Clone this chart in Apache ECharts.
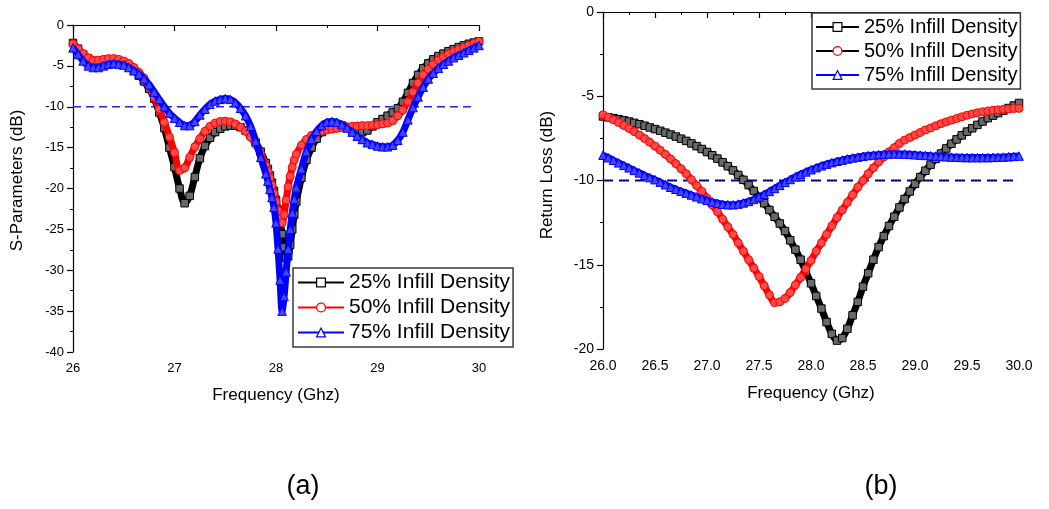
<!DOCTYPE html>
<html>
<head>
<meta charset="utf-8">
<script src="https://cdn.jsdelivr.net/npm/echarts@6/dist/echarts.min.js"></script>
<style>
  html, body { margin: 0; padding: 0; background: #fff; }
  #chart { width: 1049px; height: 509px; }
</style>
</head>
<body>
<div id="chart"></div>
<script>
// ---- (a) S-parameters vs frequency ----
const freqA = [
  26.00, 26.05, 26.10, 26.15, 26.20, 26.25, 26.30, 26.35, 26.40, 26.45,
  26.50, 26.55, 26.60, 26.65, 26.70, 26.75, 26.80, 26.85, 26.90, 26.95,
  27.00, 27.05, 27.10, 27.15, 27.20, 27.25, 27.30, 27.35, 27.40, 27.45,
  27.50, 27.55, 27.60, 27.65, 27.70, 27.75, 27.80, 27.85, 27.90,
  27.92, 27.94, 27.96, 27.98, 28.00, 28.02, 28.04, 28.06, 28.08, 28.10,
  28.12, 28.14, 28.16, 28.18, 28.20,
  28.25, 28.30, 28.35, 28.40, 28.45, 28.50, 28.55, 28.60, 28.65, 28.70,
  28.75, 28.80, 28.85, 28.90, 28.95, 29.00, 29.05, 29.10, 29.15, 29.20,
  29.25, 29.30, 29.35, 29.40, 29.45, 29.50, 29.55, 29.60, 29.65, 29.70,
  29.75, 29.80, 29.85, 29.90, 29.95, 30.00
];
const sparam25 = [
  -2.2, -2.9, -3.6, -4.1, -4.4, -4.5, -4.45, -4.4, -4.5, -4.6,
  -4.8, -5.1, -5.6, -6.2, -6.9, -7.8, -9.0, -10.7, -12.6, -15.0,
  -17.4, -20.0, -21.8, -20.9, -18.6, -16.3, -14.8, -13.8, -13.1, -12.7,
  -12.4, -12.3, -12.3, -12.5, -12.9, -13.5, -14.4, -15.5, -16.9,
  -17.6, -18.4, -19.3, -20.3, -21.4, -22.6, -24.0, -25.6, -27.2, -28.5,
  -28.3, -26.9, -25.0, -23.2, -21.6,
  -18.7, -16.5, -15.0, -13.9, -13.1, -12.6, -12.3, -12.2, -12.3, -12.5,
  -12.8, -13.0, -13.1, -12.9, -12.4, -11.9, -11.5, -11.1, -10.7, -10.2,
  -9.4, -8.3, -7.1, -6.1, -5.3, -4.7, -4.2, -3.8, -3.5, -3.2,
  -2.95, -2.7, -2.5, -2.3, -2.15, -2.0
];
const sparam50 = [
  -2.3, -2.9, -3.5, -4.0, -4.3, -4.3, -4.2, -4.1, -4.1, -4.2,
  -4.4, -4.7, -5.2, -5.8, -6.5, -7.5, -8.8, -10.3, -11.9, -13.7,
  -15.6, -17.8, -17.5, -16.2, -14.9, -13.9, -13.0, -12.4, -12.0, -11.8,
  -11.75, -11.85, -12.1, -12.5, -13.0, -13.7, -14.6, -15.8, -17.2,
  -17.9, -18.7, -19.6, -20.6, -21.6, -22.7, -23.7, -24.2, -23.2, -21.4,
  -19.8, -18.5, -17.4, -16.5, -15.8,
  -14.7, -14.0, -13.5, -13.2, -13.0, -12.85, -12.75, -12.65, -12.55, -12.45,
  -12.4, -12.35, -12.3, -12.3, -12.25, -12.2, -12.1, -12.0, -11.7, -11.1,
  -10.4, -9.4, -8.2, -7.1, -6.1, -5.4, -4.8, -4.3, -3.9, -3.55,
  -3.25, -3.0, -2.75, -2.5, -2.25, -2.0
];
const sparam75 = [
  -2.8, -3.6, -4.4, -5.0, -5.2, -5.2, -5.0, -4.8, -4.7, -4.8,
  -4.9, -5.2, -5.6, -6.0, -6.6, -7.3, -8.2, -9.1, -10.0, -10.8,
  -11.4, -11.9, -12.3, -12.3, -11.8, -11.0, -10.3, -9.7, -9.3, -9.1,
  -9.0, -9.1, -9.5, -10.2, -11.1, -12.4, -14.2, -16.2, -18.2,
  -19.1, -20.1, -21.1, -22.3, -24.2, -27.4, -31.2, -35.0, -33.2, -30.2,
  -27.4, -25.0, -23.0, -21.3, -19.9,
  -17.6, -15.5, -14.0, -13.0, -12.3, -11.9, -11.8, -11.9, -12.2, -12.6,
  -13.1, -13.6, -14.0, -14.4, -14.6, -14.8, -14.9, -14.9, -14.7, -14.1,
  -13.1, -11.6, -10.1, -8.8, -7.6, -6.6, -5.9, -5.3, -4.8, -4.4,
  -4.0, -3.7, -3.4, -3.1, -2.8, -2.5
];

// ---- (b) Return loss vs frequency ----
const freqB = [
  26.00, 26.05, 26.10, 26.15, 26.20, 26.25, 26.30, 26.35, 26.40, 26.45,
  26.50, 26.55, 26.60, 26.65, 26.70, 26.75, 26.80, 26.85, 26.90, 26.95,
  27.00, 27.05, 27.10, 27.15, 27.20, 27.25, 27.30, 27.35, 27.40, 27.45,
  27.50, 27.55, 27.60, 27.65, 27.70, 27.75, 27.80, 27.85, 27.90, 27.95,
  28.00, 28.05, 28.10, 28.15, 28.20, 28.25, 28.30, 28.35, 28.40, 28.45,
  28.50, 28.55, 28.60, 28.65, 28.70, 28.75, 28.80, 28.85, 28.90, 28.95,
  29.00, 29.05, 29.10, 29.15, 29.20, 29.25, 29.30, 29.35, 29.40, 29.45,
  29.50, 29.55, 29.60, 29.65, 29.70, 29.75, 29.80, 29.85, 29.90, 29.95,
  30.00
];
const returnLoss25 = [
  -6.20, -6.25, -6.30, -6.36, -6.43, -6.50, -6.58, -6.66, -6.75, -6.85,
  -6.95, -7.05, -7.16, -7.27, -7.39, -7.52, -7.65, -7.80, -7.96, -8.13,
  -8.31, -8.50, -8.70, -8.92, -9.15, -9.40, -9.67, -9.96, -10.27, -10.62,
  -11.00, -11.35, -11.75, -12.15, -12.55, -13.00, -13.55, -14.10, -14.70, -15.40,
  -16.10, -16.85, -17.60, -18.40, -19.10, -19.50, -19.35, -18.80, -18.00, -17.20,
  -16.30, -15.50, -14.70, -13.95, -13.30, -12.70, -12.15, -11.60, -11.10, -10.65,
  -10.20, -9.80, -9.42, -9.06, -8.72, -8.40, -8.10, -7.82, -7.56, -7.32,
  -7.10, -6.90, -6.70, -6.50, -6.30, -6.15, -6.00, -5.85, -5.70, -5.55,
  -5.40
];
const returnLoss50 = [
  -6.10, -6.25, -6.40, -6.56, -6.73, -6.91, -7.10, -7.30, -7.51, -7.73,
  -7.96, -8.20, -8.45, -8.72, -9.00, -9.30, -9.60, -9.95, -10.30, -10.65,
  -11.05, -11.45, -11.85, -12.30, -12.75, -13.20, -13.70, -14.20, -14.70, -15.20,
  -15.70, -16.25, -16.80, -17.25, -17.20, -17.00, -16.65, -16.20, -15.75, -15.25,
  -14.75, -14.20, -13.70, -13.20, -12.70, -12.20, -11.75, -11.30, -10.85, -10.40,
  -10.00, -9.60, -9.25, -8.90, -8.60, -8.30, -8.05, -7.80, -7.60, -7.45,
  -7.30, -7.15, -7.00, -6.88, -6.75, -6.63, -6.52, -6.42, -6.32, -6.22,
  -6.13, -6.05, -5.98, -5.92, -5.87, -5.83, -5.80, -5.77, -5.75, -5.73,
  -5.72
];
const returnLoss75 = [
  -8.50, -8.65, -8.80, -8.95, -9.10, -9.25, -9.40, -9.55, -9.70, -9.83,
  -9.95, -10.10, -10.25, -10.40, -10.52, -10.64, -10.75, -10.86, -10.97, -11.08,
  -11.18, -11.27, -11.35, -11.41, -11.44, -11.44, -11.40, -11.33, -11.24, -11.12,
  -10.98, -10.82, -10.65, -10.47, -10.29, -10.11, -9.94, -9.78, -9.63, -9.49,
  -9.36, -9.24, -9.13, -9.03, -8.94, -8.86, -8.79, -8.72, -8.66, -8.61,
  -8.56, -8.52, -8.49, -8.46, -8.44, -8.43, -8.42, -8.42, -8.43, -8.45,
  -8.47, -8.49, -8.51, -8.53, -8.55, -8.57, -8.59, -8.61, -8.62, -8.63,
  -8.64, -8.64, -8.64, -8.64, -8.64, -8.63, -8.62, -8.61, -8.59, -8.57,
  -8.55
];

const seriesNames = ['25% Infill Density', '50% Infill Density', '75% Infill Density'];
const threshold = -10;          // -10 dB reference level
const thresholdSpanA = [26, 29.92];
const thresholdSpanB = [26, 30];

const FONT = '"Liberation Sans", Arial, Helvetica, sans-serif';

// line colour, marker fill tint, marker shape, marker size
const styles = [
  { color: '#000000', fill: '#6a6a6a', symbol: 'rect', size: 7.5 },
  { color: '#ff0000', fill: '#ff4a4a', symbol: 'circle', size: 8 },
  { color: '#0000ff', fill: '#4545ff', symbol: 'triangle', size: 8.5 }
];

function curve(idx, axis, freq, values) {
  const st = styles[idx];
  return {
    name: seriesNames[idx],
    type: 'line',
    xAxisIndex: axis,
    yAxisIndex: axis,
    data: freq.map((f, i) => [f, values[i]]),
    smooth: 0.3,
    symbol: st.symbol,
    symbolSize: st.size,
    showSymbol: true,
    lineStyle: { color: st.color, width: 7 },
    itemStyle: { color: st.fill, borderColor: st.color, borderWidth: 1 },
    emphasis: { disabled: true },
    z: 3 + idx
  };
}

function refLine(axis, span, color, dash, width) {
  return {
    name: 'threshold',
    type: 'line',
    xAxisIndex: axis,
    yAxisIndex: axis,
    data: span.map(f => [f, threshold]),
    symbol: 'none',
    lineStyle: { color: color, width: width, type: dash },
    emphasis: { disabled: true },
    z: 2
  };
}

function xAxis(grid, interval, fmt, fontSize, gap) {
  return {
    gridIndex: grid, type: 'value', min: 26, max: 30, interval: interval,
    name: 'Frequency (Ghz)', nameLocation: 'middle', nameGap: gap,
    nameTextStyle: { fontSize: 17, color: '#000', fontFamily: FONT },
    axisLine: { show: true, lineStyle: { color: '#000', width: 1.2 } },
    axisTick: { show: true, length: 6, lineStyle: { color: '#000', width: 1.2 } },
    minorTick: { show: true, splitNumber: 2, length: 3, lineStyle: { color: '#000', width: 1 } },
    splitLine: { show: false },
    axisLabel: { fontSize: fontSize, color: '#000', margin: 10, fontFamily: FONT, formatter: fmt }
  };
}

function yAxis(grid, min, name, fontSize, shift) {
  return {
    gridIndex: grid, type: 'value', min: min, max: 0, interval: 5,
    name: name, nameLocation: 'middle', nameGap: 47,
    nameTextStyle: { fontSize: 17, color: '#000', fontFamily: FONT, padding: [0, 0, 0, shift] },
    axisLine: { show: true, onZero: false, lineStyle: { color: '#000', width: 1.2 } },
    axisTick: { show: true, length: 6, lineStyle: { color: '#000', width: 1.2 } },
    minorTick: { show: true, splitNumber: 2, length: 3, lineStyle: { color: '#000', width: 1 } },
    splitLine: { show: false },
    axisLabel: { fontSize: fontSize, color: '#000', margin: 9, fontFamily: FONT }
  };
}

const legendBase = {
  orient: 'vertical',
  selectedMode: false,
  itemGap: 0,
  itemHeight: 11,
  backgroundColor: '#fff',
  borderColor: '#3a3a3a',
  borderWidth: 1.5,
  borderRadius: 0,
  itemStyle: { color: '#fff', borderWidth: 1.2 },
  lineStyle: { width: 2 }
};

const chart = echarts.init(document.getElementById('chart'), null, { renderer: 'canvas' });
chart.setOption({
  animation: false,
  backgroundColor: '#fff',
  textStyle: { fontFamily: FONT },
  grid: [
    { left: 73, right: 570, top: 25, bottom: 157 },
    { left: 603, right: 30, top: 12, bottom: 160 }
  ],
  xAxis: [
    xAxis(0, 1, v => String(v), 13, 35),
    xAxis(1, 0.5, v => v.toFixed(1), 14, 36)
  ],
  yAxis: [
    yAxis(0, -40, 'S-Parameters (dB)', 13, 16),
    yAxis(1, -20, 'Return Loss (dB)', 14, 11)
  ],
  legend: [
    Object.assign({}, legendBase, {
      left: 293, top: 268, itemWidth: 46, padding: [2, 3, 2, 4],
      textStyle: { color: '#000', fontSize: 21, lineHeight: 25, fontFamily: FONT },
      data: seriesNames.slice()
    }),
    Object.assign({}, legendBase, {
      left: 812, top: 13, itemWidth: 43, padding: [2, 3, 2, 3],
      textStyle: { color: '#000', fontSize: 20, lineHeight: 24, fontFamily: FONT },
      data: [
        { name: seriesNames[0] },
        { name: seriesNames[1], lineStyle: { color: '#000' } },
        { name: seriesNames[2] }
      ]
    })
  ],
  graphic: [
    { type: 'text', x: 303, y: 487, style: { text: '(a)', fill: '#000', font: '27px ' + FONT, align: 'center', verticalAlign: 'middle' } },
    { type: 'text', x: 881, y: 487, style: { text: '(b)', fill: '#000', font: '27px ' + FONT, align: 'center', verticalAlign: 'middle' } }
  ],
  series: [
    refLine(0, thresholdSpanA, '#1f1fff', [8, 5], 1.5),
    curve(0, 0, freqA, sparam25),
    curve(1, 0, freqA, sparam50),
    curve(2, 0, freqA, sparam75),
    refLine(1, thresholdSpanB, '#00008b', [10, 6], 2),
    curve(0, 1, freqB, returnLoss25),
    curve(1, 1, freqB, returnLoss50),
    curve(2, 1, freqB, returnLoss75)
  ]
});
</script>
</body>
</html>
